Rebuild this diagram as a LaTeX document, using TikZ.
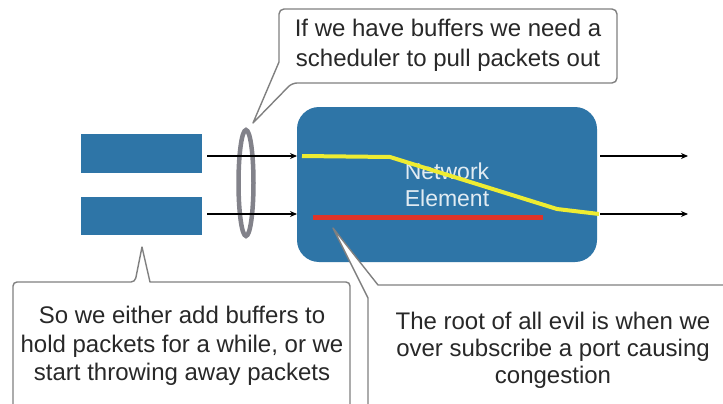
\documentclass[tikz,border=0pt]{standalone}
\usepackage{fontspec}
\setmainfont{Liberation Sans}
\usetikzlibrary{arrows.meta,shapes.geometric}
\definecolor{neblue}{RGB}{46,117,167}
\definecolor{calloutgray}{RGB}{128,128,128}
\definecolor{ringgray}{RGB}{130,130,138}
\definecolor{hiyellow}{RGB}{238,236,50}
\definecolor{hired}{RGB}{222,52,42}
\definecolor{txtgray}{RGB}{40,40,40}
\definecolor{netext}{RGB}{225,235,242}
\begin{document}
\begin{tikzpicture}[x=1pt,y=-1pt,
  buffer/.style={fill=neblue,draw=none,inner sep=0pt,minimum width=121pt},
  flow/.style={draw=black,line width=1.3pt,-{Stealth[length=7pt,width=6pt]}},
  callout/.style={draw=calloutgray,line width=1.4pt,fill=white,line join=round},
  ctext/.style={text=txtgray,align=center,inner sep=0pt},
  big/.style={font=\fontsize{24}{#1}\selectfont}]
\useasboundingbox (0,0) rectangle (723,404);
\clip (0,0) rectangle (723,404);
\fill[white] (0,0) rectangle (723,404);

% buffers
\node[buffer,minimum height=39pt] (b1) at (141.5,153.5) {};
\node[buffer,minimum height=38pt] (b2) at (141.5,216) {};

% network element
\node[fill=neblue,rounded corners=22pt,minimum width=300pt,minimum height=155pt,inner sep=0pt] (ne) at (447,184.5) {};
\node[text=netext,align=center,inner sep=0pt,font=\fontsize{23}{27}\selectfont] (nelabel) at (447,185) {Network\\Element};

\coordinate (in1) at (297,156);
\coordinate (in2) at (297,214);
\coordinate (out1) at (688,156);
\coordinate (out2) at (688,214);

% ring
\node[draw=ringgray,line width=4.5pt,ellipse,minimum width=15pt,minimum height=106pt,inner sep=0pt] (ring) at (246,183) {};

% arrows
\draw[flow,shorten <=5pt] (b1.east |- in1) -- (in1);
\draw[flow,shorten <=5pt] (b2.east |- in2) -- (in2);
\draw[flow,shorten <=3pt] (ne.east |- out1) -- (out1);
\draw[flow,shorten <=3pt] (ne.east |- out2) -- (out2);

% highlight lines
\draw[hired,line width=5pt] (313,217) -- (543,217);
\draw[hiyellow,line width=4pt,line join=round] (302,156) -- (390,157) -- (557,209) -- (599,214);

% callouts
\draw[callout] (253,123) -- (279,62) [rounded corners=5pt] -- (279,9) -- (617,9) -- (617,83) -- (292,83) [sharp corners] -- cycle;
\node[ctext,big=30] (t1) at (448,45) {If we have buffers we need a\\scheduler to pull packets out};

\draw[callout,rounded corners=4pt] (13,420) -- (13,282) -- (135,282) [sharp corners] -- (142,247) -- (150,282) [rounded corners=4pt] -- (350,282) -- (350,420);
\node[ctext,big=28.5] (t2) at (182,346) {So we either add buffers to\\hold packets for a while, or we\\start throwing away packets};

\draw[callout] (368,420) -- (368,298) -- (333,228) -- (378,285) -- (740,285) -- (740,420) -- cycle;
\node[ctext,big=27] (t3) at (553,350) {The root of all evil is when we\\over subscribe a port causing\\congestion};
\end{tikzpicture}
\end{document}
